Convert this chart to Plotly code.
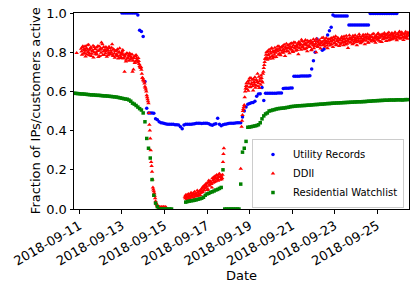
import pandas as pd
import plotly.graph_objects as go

N = None
START = "2018-09-10 18:00"

# Utility Records: one value every 2 hours from START
utility = (
    [N] * 27 +
    [1.0] * 9 +
    [0.99, 0.912, 0.906, 0.88, 0.65, 0.514, 0.49, 0.49, 0.49, 0.488,
     0.46, 0.455, 0.445, 0.44, 0.439, 0.436, 0.434, 0.433, 0.432, 0.432,
     0.432, 0.43, 0.43, 0.428, 0.42, 0.41, 0.428, 0.432, 0.432, 0.433,
     0.433, 0.434, 0.435, 0.437, 0.438, 0.437, 0.436, 0.437, 0.438, 0.437,
     0.435, 0.43, 0.427, 0.432, 0.435, 0.463, 0.433, 0.425, 0.43, 0.432,
     0.434, 0.436, 0.437, 0.438, 0.438, 0.439, 0.44, 0.44, 0.44, 0.47,
     0.50, 0.52, 0.535, 0.538, 0.542, 0.544, 0.55, 0.575, 0.587, 0.588,
     0.62, 0.553, 0.59, 0.59, 0.59, 0.59, 0.591, 0.591, 0.591, 0.592,
     0.592, 0.592, 0.615, 0.616, 0.616, 0.616, 0.617, 0.617, 0.677, 0.677,
     0.677, 0.677, 0.678, 0.678, 0.678, 0.678, 0.678, 0.68, 0.714, 0.757,
     0.80, 0.867, N, N, 0.81, 0.816, 0.85, 0.888, 0.91, 0.927, 0.99] +
    [0.985] * 8 +
    [0.939] * 12 +
    [0.997] +
    [0.998] * 15 +
    [N] * 6
)

# DDII: samples on the hour from START
ddii_a = [
    N, N, N, 0.796, N, N, N, N, 0.817, 0.787, 0.83, 0.809,
    0.796, 0.778, 0.821, 0.836, 0.801, 0.784, 0.813, 0.824, 0.792, 0.806, 0.773, 0.827,
    0.816, 0.799, 0.788, 0.832, 0.808, 0.781, 0.819, 0.85, 0.84, 0.803, 0.786, 0.814,
    0.826, 0.777, 0.811, 0.797, 0.822, 0.79, 0.80, 0.84, 0.78, 0.812, 0.772, 0.805,
    0.79, 0.815, 0.768, 0.801, 0.783, 0.775, 0.796, 0.811, 0.77, 0.70, 0.788, 0.762,
    0.794, 0.772, 0.757, 0.781, 0.79, 0.766, 0.70, 0.712, 0.779, 0.752, 0.786, 0.76,
    0.748, 0.755, 0.73, 0.72, 0.71, 0.67, 0.66, 0.65, 0.625, 0.61, 0.58, 0.56,
    0.54, 0.43, 0.36, 0.24, 0.19, 0.11, 0.09, 0.068, 0.04, 0.025, 0.015, 0.01,
    0.008, 0.01, 0.006, 0.01, 0.008, 0.01, 0.008, 0.01, 0.008, N, N, N,
    N, N, N, N, N, N, N, N, N, N, N, N,
    N, N, N, N, N, 0.062, 0.071, 0.05, 0.058, 0.077, 0.066, 0.054,
    0.083, 0.069, 0.06, 0.075, 0.088, 0.064, 0.072, 0.095, 0.068, 0.079, 0.09, 0.081,
    0.104, 0.087, 0.116, 0.097, 0.123, 0.108, 0.132, 0.101, 0.145, 0.118, 0.139, 0.128,
    0.157, 0.134, 0.15, 0.167, 0.142, 0.173, 0.152, 0.164, 0.18, 0.149, 0.171, 0.158,
    0.24, 0.31, N, N, N, N, N, N, N, N, N, N,
    N, N, N, N, N, N, N, N, 0.205, 0.42, 0.48, 0.51,
    0.53, 0.60, 0.628, 0.612, 0.651, 0.64, 0.667, 0.622, 0.636, 0.659, 0.605, 0.648,
    0.672, 0.631, 0.656, 0.69, 0.642, 0.617, 0.664, 0.681, 0.652, 0.69, 0.72, 0.75,
    0.77, 0.80, 0.762, 0.785, 0.812, 0.774, 0.793, 0.821, 0.768, 0.799, 0.787, 0.81,
    0.776, 0.815, 0.803, 0.83, 0.792, 0.784, 0.826, 0.809, 0.797, 0.838, 0.781, 0.818,
    0.806, 0.834, 0.822, 0.795, 0.843, 0.812, 0.827, 0.801, 0.851, 0.819, 0.808, 0.836,
    0.824, 0.79, 0.847, 0.833, 0.813, 0.856, 0.829, 0.818, 0.841, 0.862, 0.822, 0.805,
    0.849, 0.833, 0.826, 0.858, 0.814, 0.844, 0.866, 0.83, 0.838, 0.80, 0.854, 0.827,
    0.842, 0.861, 0.819, 0.851, 0.836, 0.875, 0.84, 0.828, 0.859, 0.847, 0.82, 0.866,
    0.845, 0.834, 0.872, 0.853, 0.826, 0.861, 0.848, 0.881, 0.839, 0.857, 0.868, 0.831,
    0.862, 0.846, 0.879, 0.851, 0.836, 0.869, 0.857, 0.884, 0.843, 0.822, 0.865, 0.874,
    0.85, 0.867, 0.841, 0.878, 0.856, 0.887, 0.862, 0.835, 0.871, 0.853, 0.882, 0.846,
    0.873, 0.857, 0.889, 0.862, 0.84, 0.876, 0.868, 0.891, 0.849, 0.866, 0.881, 0.855,
    0.878, 0.862, 0.894, 0.871, 0.848, 0.883, 0.866, 0.897, 0.859, 0.874, 0.888, 0.852,
    0.881, 0.869, 0.898, 0.873, 0.857, 0.889, 0.878, 0.901, 0.862, 0.884, 0.893, 0.866,
    0.887, 0.871, 0.902, 0.879, 0.861, 0.893, 0.884, 0.905, 0.868, 0.889, 0.897, 0.874,
    0.891, 0.877, 0.904, 0.882, 0.869, 0.895,
]

# DDII: samples on the half hour from START + 30 min
ddii_b = [
    N, N, N, N, N, N, N, N, 0.803, 0.825, 0.792, 0.816,
    0.83, 0.807, 0.788, 0.812, 0.838, 0.795, 0.821, 0.78, 0.809, 0.833, 0.799, 0.815,
    0.79, 0.824, 0.806, 0.776, 0.829, 0.812, 0.797, 0.818, 0.786, 0.826, 0.808, 0.793,
    0.804, 0.817, 0.785, 0.828, 0.796, 0.809, 0.823, 0.787, 0.815, 0.794, 0.806, 0.782,
    0.808, 0.779, 0.797, 0.82, 0.771, 0.789, 0.804, 0.768, 0.786, 0.777, 0.753, 0.795,
    0.769, 0.783, 0.795, 0.762, 0.774, 0.788, 0.757, 0.771, 0.745, 0.781, 0.769, 0.756,
    0.771, 0.74, 0.726, 0.725, 0.69, 0.668, 0.655, 0.64, 0.618, 0.60, 0.57, 0.55,
    0.49, 0.40, 0.30, 0.22, 0.15, 0.10, 0.08, 0.055, 0.03, 0.02, 0.012, 0.008,
    0.01, 0.006, 0.009, 0.007, 0.01, 0.006, 0.009, 0.007, N, N, N, N,
    N, N, N, N, N, N, N, N, N, N, N, N,
    N, N, N, N, N, 0.055, 0.064, 0.073, 0.061, 0.052, 0.069, 0.078,
    0.063, 0.074, 0.082, 0.058, 0.071, 0.079, 0.066, 0.084, 0.075, 0.092, 0.07, 0.098,
    0.091, 0.112, 0.094, 0.106, 0.128, 0.115, 0.097, 0.136, 0.124, 0.142, 0.131, 0.11,
    0.146, 0.162, 0.138, 0.155, 0.171, 0.158, 0.144, 0.177, 0.163, 0.169, 0.152, 0.175,
    0.28, N, N, N, N, N, N, N, N, N, N, N,
    N, N, N, N, N, N, N, N, N, 0.45, 0.50, 0.52,
    0.57, 0.615, 0.641, 0.625, 0.603, 0.655, 0.621, 0.668, 0.644, 0.628, 0.662, 0.637,
    0.618, 0.66, 0.648, 0.626, 0.675, 0.653, 0.634, 0.668, 0.645, 0.70, 0.735, 0.765,
    0.787, 0.772, 0.805, 0.79, 0.766, 0.802, 0.818, 0.781, 0.806, 0.774, 0.823, 0.797,
    0.808, 0.829, 0.787, 0.817, 0.81, 0.823, 0.798, 0.832, 0.815, 0.804, 0.825, 0.843,
    0.82, 0.803, 0.838, 0.828, 0.816, 0.846, 0.806, 0.835, 0.824, 0.848, 0.83, 0.811,
    0.839, 0.852, 0.82, 0.842, 0.864, 0.827, 0.838, 0.853, 0.815, 0.846, 0.836, 0.859,
    0.828, 0.855, 0.843, 0.81, 0.851, 0.836, 0.82, 0.857, 0.845, 0.868, 0.832, 0.849,
    0.858, 0.835, 0.846, 0.872, 0.853, 0.838, 0.862, 0.85, 0.873, 0.834, 0.856, 0.845,
    0.866, 0.857, 0.84, 0.862, 0.876, 0.845, 0.868, 0.835, 0.859, 0.874, 0.85, 0.862,
    0.838, 0.872, 0.858, 0.866, 0.88, 0.848, 0.839, 0.871, 0.861, 0.853, 0.886, 0.849,
    0.872, 0.858, 0.884, 0.846, 0.866, 0.873, 0.852, 0.879, 0.861, 0.892, 0.868, 0.857,
    0.851, 0.882, 0.866, 0.874, 0.889, 0.858, 0.879, 0.848, 0.872, 0.885, 0.863, 0.876,
    0.892, 0.869, 0.856, 0.882, 0.877, 0.864, 0.893, 0.872, 0.884, 0.853, 0.879, 0.891,
    0.866, 0.89, 0.877, 0.885, 0.871, 0.896, 0.86, 0.887, 0.874, 0.866, 0.898, 0.879,
    0.875, 0.894, 0.882, 0.868, 0.891, 0.877, 0.899, 0.873, 0.886, 0.902, 0.878, 0.862,
    0.88, 0.896, 0.872, 0.889, 0.90, 0.884,
]

# Residential Watchlist: one value every 2 hours from START
watchlist = [
    0.59, 0.59, 0.589, 0.588, 0.587, 0.587, 0.586, 0.585, 0.584, 0.583,
    0.582, 0.582, 0.581, 0.58, 0.58, 0.579, 0.578, 0.577, 0.577, 0.576,
    0.575, 0.574, 0.573, 0.572, 0.571, 0.569, 0.567, 0.565, 0.563, 0.561,
    0.56, 0.556, 0.55, 0.54, 0.535, 0.528, 0.52, 0.512, 0.505, 0.49,
    0.445, 0.36, 0.31, 0.26, 0.15, 0.07, 0.03, 0.012, 0.0, 0.0,
    0.0, 0.0, 0.0, 0.0, 0.0, 0.0, N, N, N, N,
    N, N, N, 0.035, 0.038, 0.04, 0.042, 0.043, 0.045, 0.047,
    0.05, 0.052, 0.055, 0.06, 0.07, 0.077, 0.08, 0.085, 0.088, 0.092,
    0.097, 0.10, 0.105, 0.11, 0.20, 0.0, 0.0, 0.0, 0.0, 0.0,
    0.0, 0.0, 0.0, 0.0, 0.127, 0.29, 0.31, 0.345, 0.417, 0.418,
    0.42, 0.422, 0.424, 0.426, 0.43, 0.44, 0.46, 0.475, 0.485, 0.49,
    0.50, 0.502, 0.505, 0.507, 0.51, 0.512, 0.513, 0.514, 0.515, 0.516,
    0.518, 0.519, 0.522, 0.523, 0.524, 0.525, 0.526, 0.527, 0.527, 0.528,
    0.528, 0.529, 0.53, 0.53, 0.531, 0.532, 0.533, 0.533, 0.534, 0.535,
    0.535, 0.536, 0.537, 0.538, 0.538, 0.539, 0.54, 0.54, 0.541, 0.541,
    0.542, 0.542, 0.543, 0.543, 0.544, 0.544, 0.545, 0.545, 0.546, 0.546,
    0.547, 0.547, 0.547, 0.548, 0.548, 0.549, 0.55, 0.55, 0.551, 0.552,
    0.552, 0.553, 0.553, 0.554, 0.554, 0.555, 0.555, 0.555, 0.556, 0.556,
    0.556, 0.556, 0.557, 0.557, 0.557, 0.556, 0.557, 0.558, 0.558,
]

xticks = ["2018-09-11", "2018-09-13", "2018-09-15", "2018-09-17",
          "2018-09-19", "2018-09-21", "2018-09-23", "2018-09-25"]
yticks = [0.0, 0.2, 0.4, 0.6, 0.8, 1.0]

t_util = pd.date_range(START, periods=len(utility), freq="2h")
t_a = pd.date_range(START, periods=len(ddii_a), freq="h")
t_b = pd.date_range(pd.Timestamp(START) + pd.Timedelta(minutes=30), periods=len(ddii_b), freq="h")
t_watch = pd.date_range(START, periods=len(watchlist), freq="2h")
ddii_x = list(t_a) + list(t_b)
ddii_y = ddii_a + ddii_b

FONT = "DejaVu Sans"
fig = go.Figure()
fig.add_trace(go.Scatter(x=t_util, y=utility, mode="markers", name="Utility Records",
                         marker=dict(color="#0000ff", size=3.5, symbol="circle", line_width=0)))
fig.add_trace(go.Scatter(x=ddii_x, y=ddii_y, mode="markers", name="DDII",
                         marker=dict(color="#ff0000", size=4, symbol="triangle-up", line_width=0)))
fig.add_trace(go.Scatter(x=t_watch, y=watchlist, mode="markers", name="Residential Watchlist",
                         marker=dict(color="#008000", size=3.5, symbol="square", line_width=0)))

axis_common = dict(showline=True, linecolor="black", linewidth=1, mirror=True,
                   ticks="outside", ticklen=3.5, tickwidth=0.8, tickcolor="black",
                   showgrid=False, zeroline=False, automargin=False,
                   tickfont=dict(family=FONT, size=13, color="black"))

fig.update_xaxes(range=["2018-09-10 18:00", "2018-09-26 11:45"],
                 tickvals=xticks, ticktext=xticks, tickangle=-30, **axis_common)
fig.update_yaxes(range=[0, 1], tickvals=yticks, ticktext=[f"{v:.1f}" for v in yticks],
                 **axis_common)

fig.add_annotation(text="Date", xref="paper", yref="paper", x=0.5, y=-0.34,
                   xanchor="center", yanchor="middle", showarrow=False,
                   font=dict(family=FONT, size=13, color="black"))
fig.add_annotation(text="Fraction of IPs/customers active", xref="paper", yref="paper",
                   x=-0.116, y=0.5, xanchor="center", yanchor="middle", textangle=-90,
                   showarrow=False, font=dict(family=FONT, size=13, color="black"))

fig.update_layout(
    width=419, height=289,
    margin=dict(l=74, r=10, t=13, b=80),
    plot_bgcolor="white", paper_bgcolor="white",
    font=dict(family=FONT, size=13, color="black"),
    showlegend=True,
    legend=dict(x=0.985, y=0.005, xanchor="right", yanchor="bottom",
                bgcolor="rgba(255,255,255,0.8)", bordercolor="#cccccc", borderwidth=1,
                font=dict(family=FONT, size=10, color="black"),
                itemwidth=30, tracegroupgap=0),
)

fig.write_html("out.html", config={"displayModeBar": False},
               post_script="document.body.style.margin='0px';")
